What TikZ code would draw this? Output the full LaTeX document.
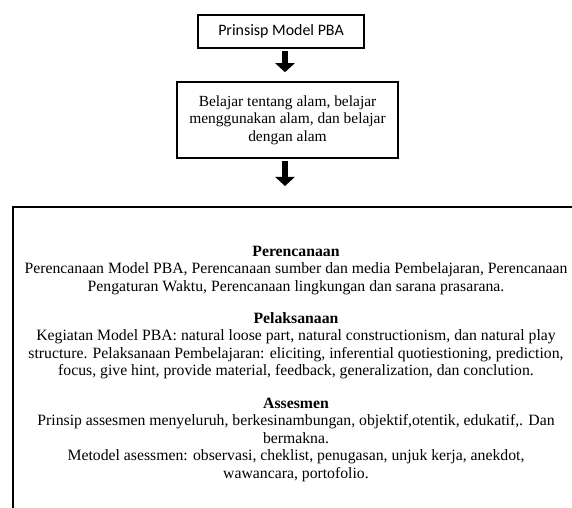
\documentclass[tikz,border=0pt]{standalone}
\usepackage{fontspec}
\setmainfont{Liberation Serif}
\newfontfamily\calibri{Carlito}
\usetikzlibrary{arrows.meta, positioning}

\tikzset{
  box/.style={draw, line width=1.6bp, inner sep=0pt, align=center},
  bigarrow/.style={line width=6bp, -{Triangle[width=19bp,length=9bp]}},
}

\begin{document}
\begin{tikzpicture}[x=1bp,y=-1bp]
  \useasboundingbox (0,0) rectangle (572,508);
  \clip (0,0) rectangle (572,508);
  % atas
  \node[box, minimum width=166bp, minimum height=33bp, font=\calibri\fontsize{16}{19}\selectfont]
    (prinsip) at (281,31.5) {Prinsisp Model PBA};
  \node[box, minimum width=221bp, minimum height=76bp, font=\fontsize{15.5}{17.5}\selectfont]
    (belajar) at (287.5,120) {Belajar tentang alam, belajar\\ menggunakan alam, dan belajar\\ dengan alam};
  % kotak besar
  \node[box, line width=1.9bp, anchor=north west, minimum width=600bp, minimum height=330bp]
    (langkah) at (12,206) {};
  \node[align=center, anchor=north, inner sep=0pt, font=\fontsize{15.8}{17.5}\selectfont]
    (isi) at (296,246) {%
    \textbf{Perencanaan}\\
    Perencanaan Model PBA, Perencanaan sumber dan media Pembelajaran, Perencanaan\\
    Pengaturan Waktu, Perencanaan lingkungan dan sarana prasarana.\\[14.5bp]
    \textbf{Pelaksanaan}\\
    Kegiatan Model PBA: natural loose part, natural constructionism, dan natural play\\
    structure. Pelaksanaan Pembelajaran: eliciting, inferential quotiestioning, prediction,\\
    focus, give hint, provide material, feedback, generalization, dan conclution.\\[15.5bp]
    \textbf{Assesmen}\\
    Prinsip assesmen menyeluruh, berkesinambungan, objektif,otentik, edukatif,. Dan\\
    bermakna.\\
    Metodel asessmen: observasi, cheklist, penugasan, unjuk kerja, anekdot,\\
    wawancara, portofolio.};
  % panah
  \draw[bigarrow, shorten <=2bp, shorten >=9bp]
    ([xshift=4bp]prinsip.south) -- ([xshift=4bp]prinsip.south |- belajar.north);
  \draw[bigarrow, shorten <=2bp, shorten >=20bp]
    ([xshift=-2.5bp]belajar.south) -- ([xshift=-2.5bp]belajar.south |- langkah.north);
\end{tikzpicture}
\end{document}
